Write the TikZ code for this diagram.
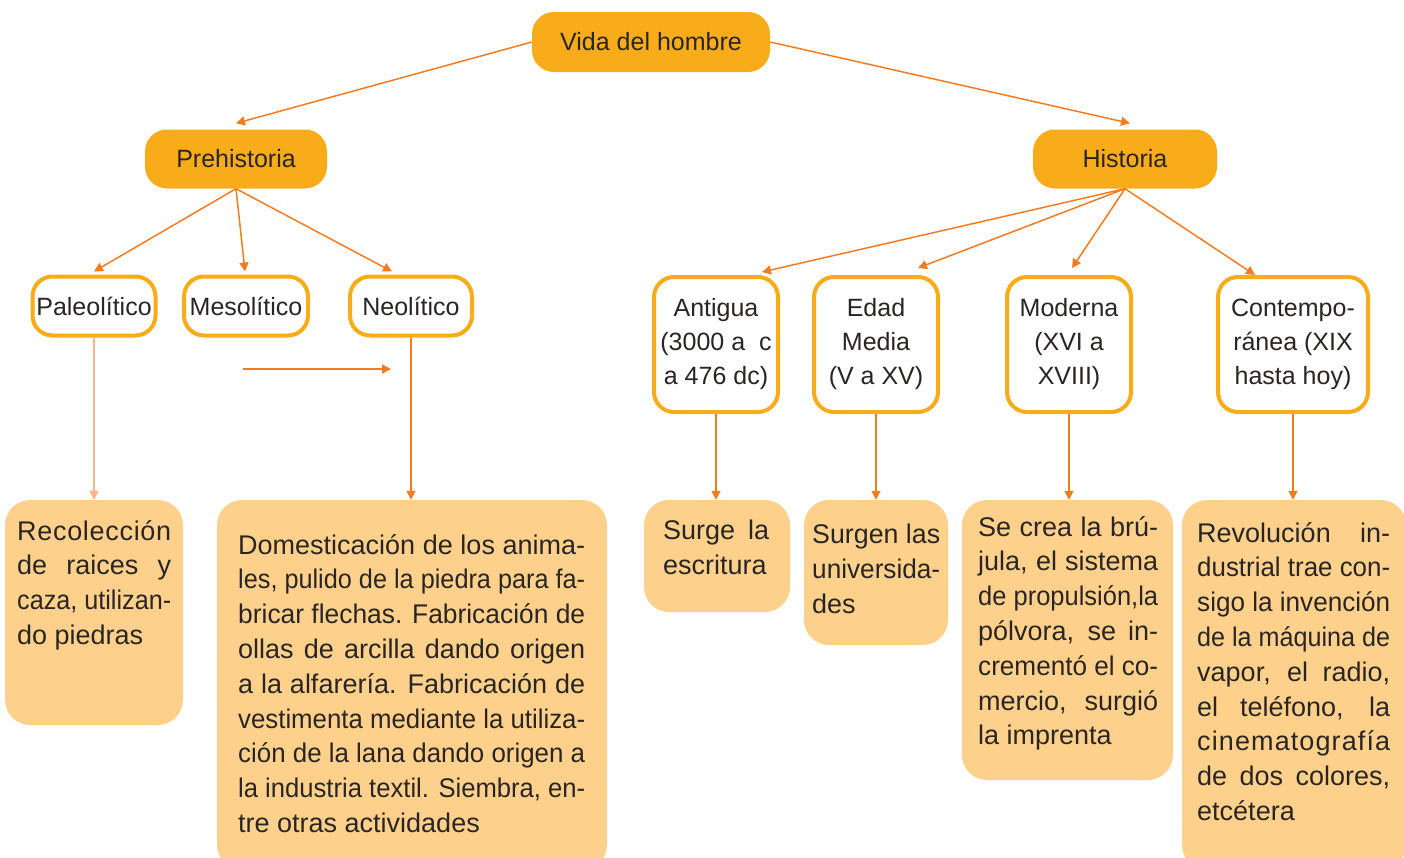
\documentclass[tikz,border=0pt]{standalone}
\usepackage{fontspec}
\setmainfont{Liberation Sans}
\usepackage{graphicx}
\usetikzlibrary{positioning, arrows.meta, calc}

\definecolor{oro}{HTML}{F9AC1A}
\definecolor{crema}{HTML}{FDD18C}
\definecolor{naranja}{HTML}{F47B20}
\definecolor{tinta}{HTML}{2A2523}

% one justified line of a text box, squeezed if it is too long
\newlength\anchot
\newsavebox\cajarenglon
\newcommand{\ancho}[1]{\global\anchot=#1\relax}
\newcommand{\renglon}[1]{\sbox\cajarenglon{#1}%
  \ifdim\wd\cajarenglon>\anchot\resizebox{\anchot}{\height}{\usebox\cajarenglon}%
  \else\makebox[\anchot][s]{#1}\fi}

\begin{document}
\begin{tikzpicture}[x=1pt, y=-1pt,
    principal/.style = {fill=oro, rounded corners=22pt, minimum height=59pt, inner sep=0pt, text=tinta, font=\fontsize{25}{30}\selectfont},
    periodo/.style = {draw=oro, line width=4pt, fill=white, rounded corners=20pt, inner sep=0pt, align=center, text=tinta, font=\fontsize{25}{34}\selectfont},
    detalle/.style = {fill=crema, rounded corners=25pt, inner sep=0pt},
    texto/.style = {anchor=north west, inner sep=0pt, align=left, text=tinta, font=\fontsize{27}{34.8}\selectfont},
    flecha/.style = {draw=naranja, line width=1.5pt, -{Triangle[length=9pt, width=9pt]}}]
    \useasboundingbox (0,0) rectangle (1404,857);

    % top levels
    \node[principal, minimum width=238pt, minimum height=60pt] (vida) at (651,42) {Vida del hombre};
    \node[principal, minimum width=182pt] (pre) at (236,159) {Prehistoria};
    \node[principal, minimum width=184pt] (his) at (1125,159) {Historia};

    % periods
    \node[periodo, minimum width=123pt, minimum height=59pt] (pal) at (94,306) {Paleolítico};
    \node[periodo, minimum width=124pt, minimum height=59pt] (meso) at (246,306) {Mesolítico};
    \node[periodo, minimum width=122pt, minimum height=59pt] (neo) at (411,306) {Neolítico};
    \node[periodo, minimum width=124pt, minimum height=135pt] (ant) at (716,344.5) {Antigua\\(3000 a \ c\\a 476 dc)};
    \node[periodo, minimum width=124pt, minimum height=135pt] (edad) at (876,344.5) {Edad\\Media\\(V a XV)};
    \node[periodo, minimum width=124pt, minimum height=135pt] (mod) at (1069,344.5) {Moderna\\(XVI a\\XVIII)};
    \node[periodo, minimum width=150pt, minimum height=135pt] (cont) at (1293,344.5) {Contempo-\\ránea (XIX\\hasta hoy)};

    % detail boxes
    \node[detalle, minimum width=178pt, minimum height=225pt] (recol) at (94,612.5) {};
    \node[detalle, minimum width=390pt, minimum height=370pt] (domes) at (412,685) {};
    \node[detalle, minimum width=146pt, minimum height=112pt] (surge) at (717,556) {};
    \node[detalle, minimum width=144pt, minimum height=145pt] (surgen) at (876,572.5) {};
    \node[detalle, minimum width=211pt, minimum height=280pt] (secrea) at (1067.5,640) {};
    \node[detalle, minimum width=224pt, minimum height=370pt] (revol) at (1294,685) {};

    \ancho{154pt}
    \node[texto] (trecol) at (17,520) {%
        \renglon{R\hfil e\hfil c\hfil o\hfil l\hfil e\hfil c\hfil c\hfil i\hfil ó\hfil n}\\ \renglon{de raices y}\\ \renglon{caza, utilizan-}\\ do piedras};
    \ancho{347pt}
    \node[texto] (tdomes) at (238,534) {%
        \renglon{Domesticación de los anima-}\\ \renglon{les, pulido de la piedra para fa-}\\
        \renglon{bricar flechas. Fabricación de}\\ \renglon{ollas de arcilla dando origen}\\
        \renglon{a la alfarería. Fabricación de}\\ \renglon{vestimenta mediante la utiliza-}\\
        \renglon{ción de la lana dando origen a}\\ \renglon{la industria textil. Siembra, en-}\\
        tre otras actividades};
    \ancho{106pt}
    \node[texto] (tsurge) at (663,520) {%
        \renglon{Surge la}\\ escritura};
    \ancho{128pt}
    \node[texto] (tsurgen) at (812,524) {%
        \renglon{Surgen las}\\ \renglon{universida-}\\ des};
    \ancho{180pt}
    \node[texto] (tsecrea) at (978,516) {%
        \renglon{Se crea la brú-}\\ \renglon{jula, el sistema}\\ \renglon{de propulsión,la}\\
        \renglon{pólvora, se in-}\\ \renglon{crementó el co-}\\ \renglon{mercio, surgió}\\ la imprenta};
    \ancho{193pt}
    \node[texto] (trevol) at (1197,522) {%
        \renglon{Revolución in-}\\ \renglon{dustrial trae con-}\\ \renglon{sigo la invención}\\
        \renglon{de la máquina de}\\ \renglon{vapor, el radio,}\\ \renglon{el teléfono, la}\\
        \renglon{c\hfil i\hfil n\hfil e\hfil m\hfil a\hfil t\hfil o\hfil g\hfil r\hfil a\hfil f\hfil í\hfil a}\\
        \renglon{de dos colores,}\\ etcétera};

    % connectors
    \draw[flecha] (vida.west) -- ([yshift=6pt]pre.north);
    \draw[flecha] (vida.east) -- ([xshift=5pt, yshift=6pt]his.north);
    \draw[flecha] (pre.south) -- ([yshift=3pt]pal.north);
    \draw[flecha] (pre.south) -- ([xshift=-1pt, yshift=3pt]meso.north);
    \draw[flecha] (pre.south) -- ([xshift=-19pt, yshift=3pt]neo.north);
    \draw[flecha] (his.south) -- ([xshift=46pt, yshift=3pt]ant.north);
    \draw[flecha] (his.south) -- ([xshift=42pt, yshift=7pt]edad.north);
    \draw[flecha] (his.south) -- ([xshift=3pt, yshift=7pt]mod.north);
    \draw[flecha] (his.south) -- ([xshift=-38pt]cont.north);
    \coordinate (sueltoA) at (243,369);
    \coordinate (sueltoB) at (391,369);
    \draw[flecha] (sueltoA) -- (sueltoB);
    \draw[flecha, draw=naranja!55] (pal.south) -- (pal.south |- recol.north);
    \draw[flecha] (neo.south) -- (neo.south |- domes.north);
    \draw[flecha] (ant.south) -- (ant.south |- surge.north);
    \draw[flecha] (edad.south) -- (edad.south |- surgen.north);
    \draw[flecha] (mod.south) -- (mod.south |- secrea.north);
    \draw[flecha] (cont.south) -- (cont.south |- revol.north);
\end{tikzpicture}
\end{document}
